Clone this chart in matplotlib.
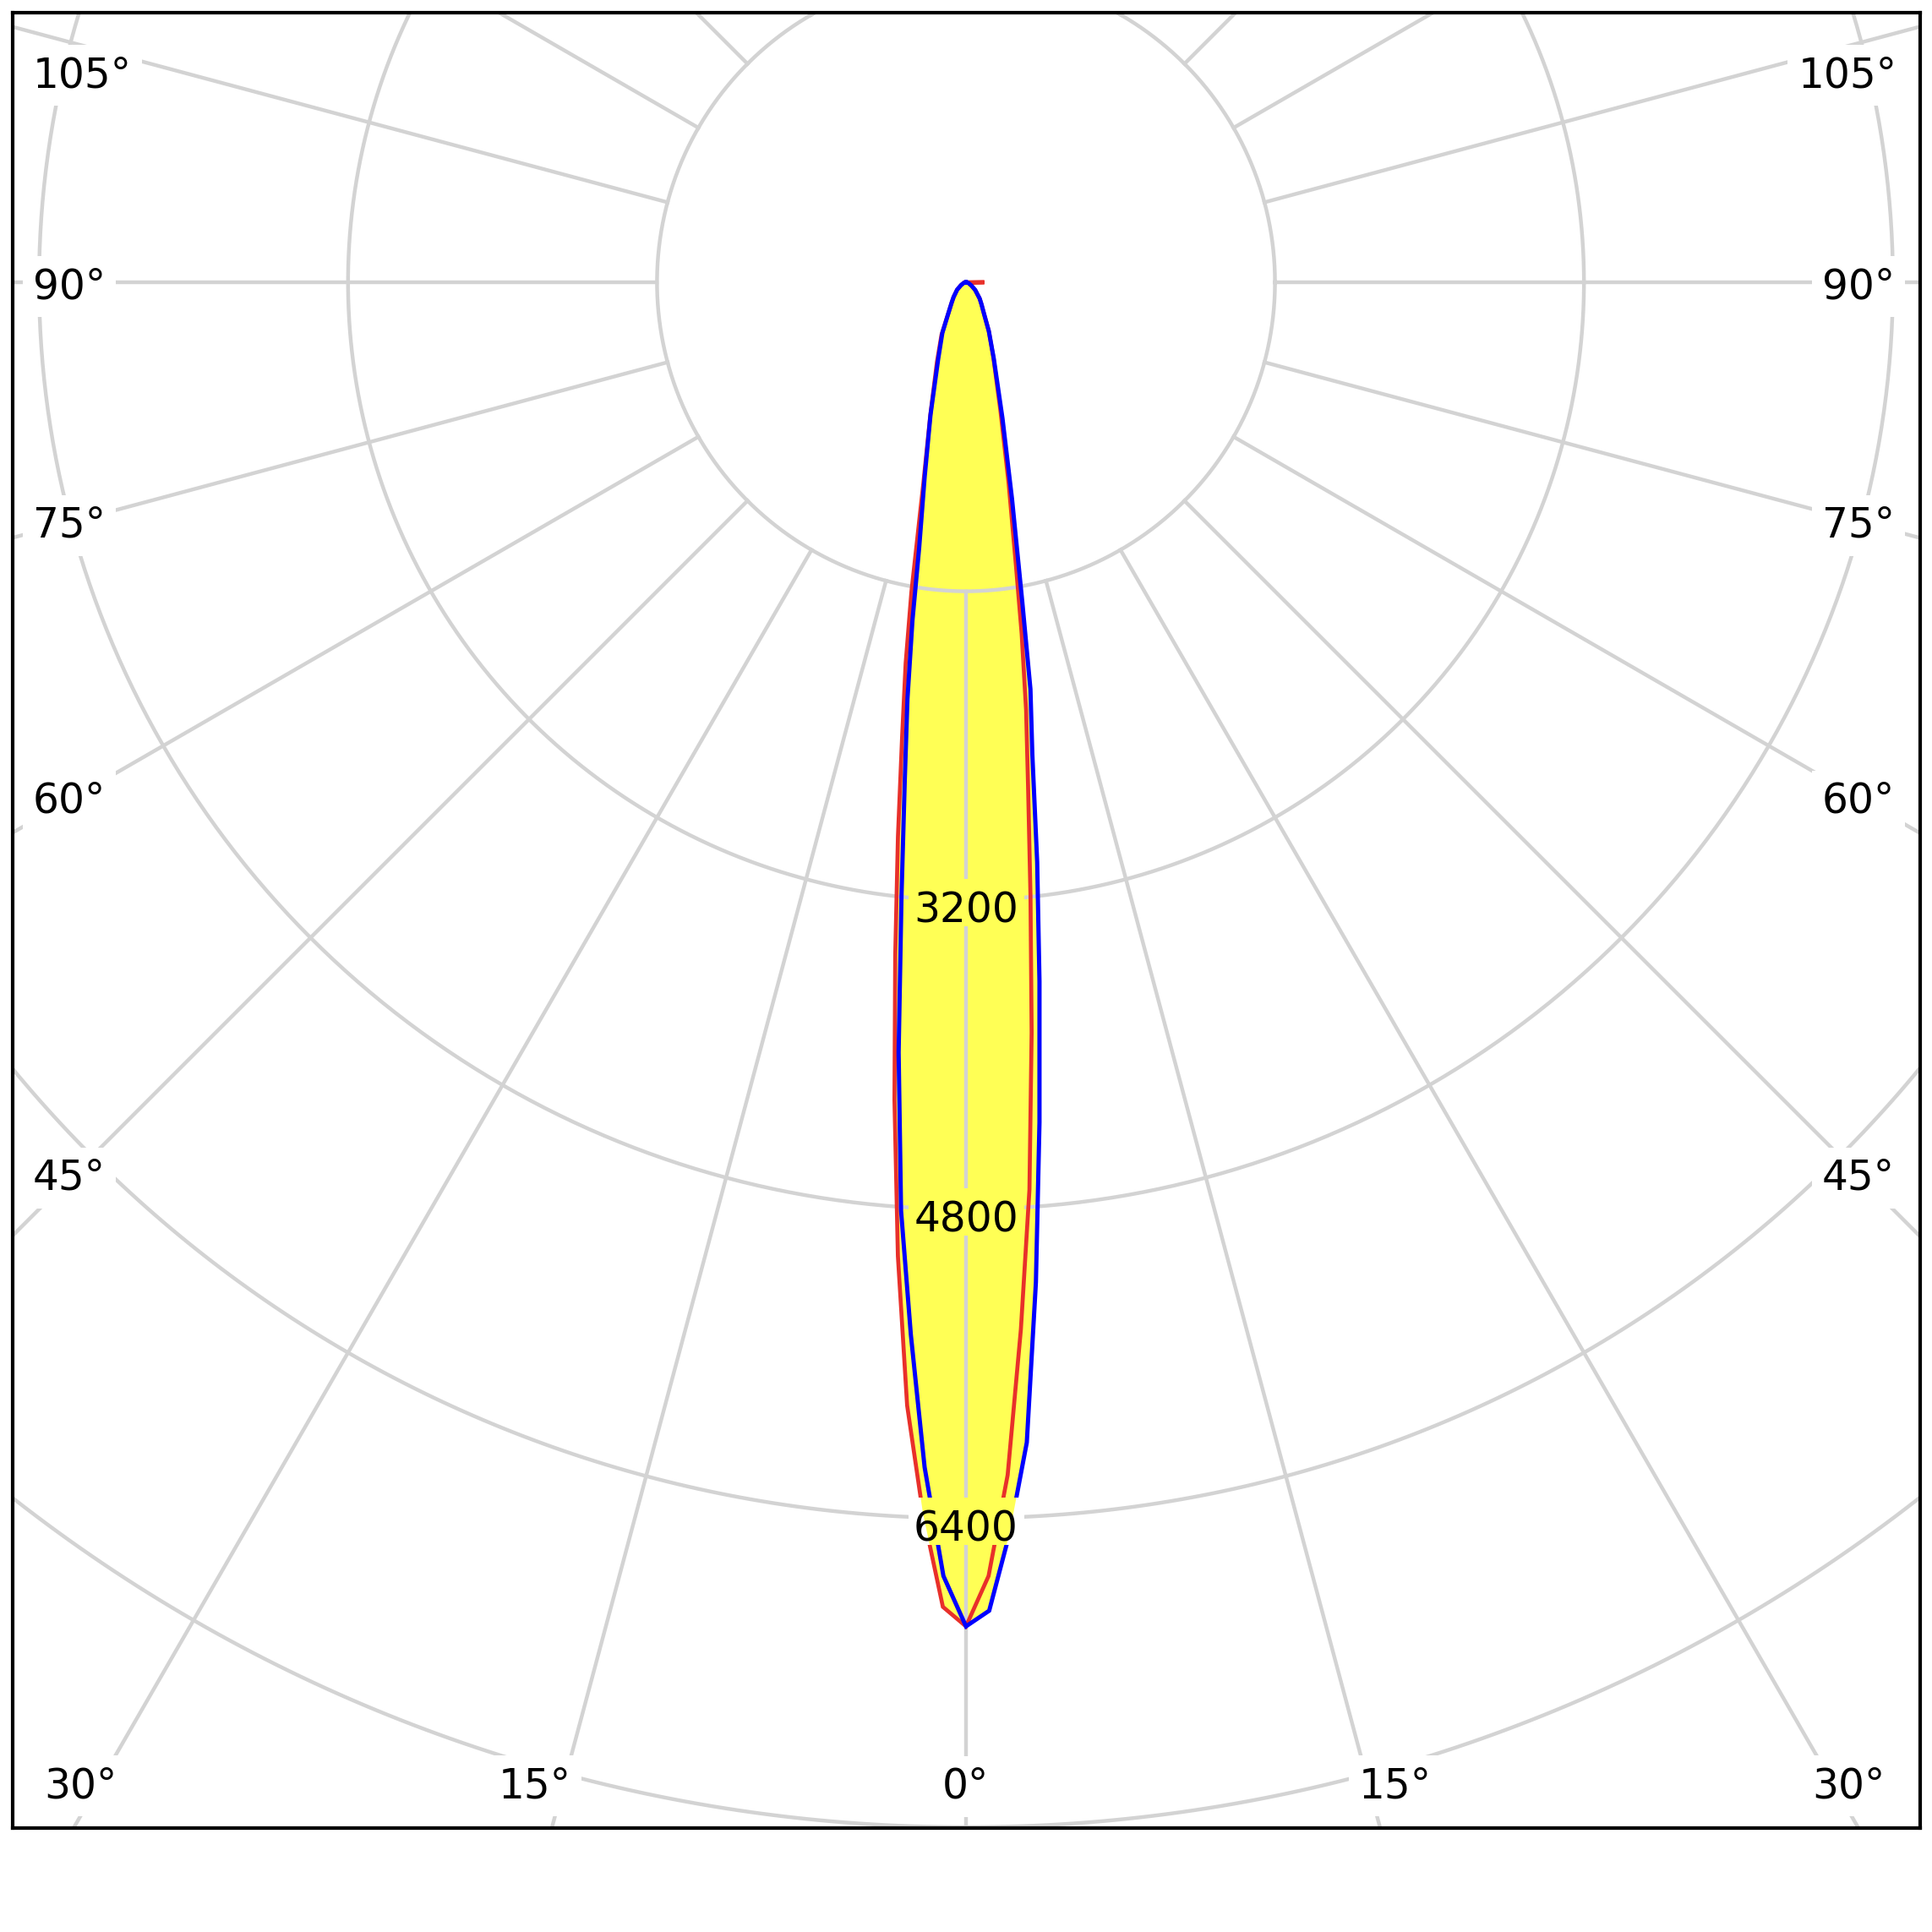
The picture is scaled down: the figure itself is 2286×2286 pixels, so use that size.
import numpy as np
import matplotlib
matplotlib.use('Agg')
import matplotlib.pyplot as plt
from matplotlib.patches import Polygon, Rectangle

# Lichtstärkeverteilung (cd), gamma in Grad, je C-Ebene
GAMMA = [0, 1, 2, 3, 4, 5, 6, 7, 8, 9, 10, 12, 15, 20, 25, 30, 35, 40, 50, 60, 70, 80, 90]
I_C0 = [6960, 6700, 6180, 5430, 4710, 3900, 3195, 2640, 2236, 1843, 1490, 1060, 690,
        415, 280, 185, 140, 110, 62, 32, 15, 10, 95]
I_C180 = [6960, 6860, 6380, 5824, 5055, 4250, 3506, 2891, 2377, 1997, 1627, 1060, 715,
          440, 300, 180, 130, 100, 60, 30, 15, 6, 0]
I_C90 = [6960, 6880, 6480, 6016, 5190, 4366, 3640, 3024, 2468, 2133, 1676, 1145, 730,
         421, 280, 185, 140, 110, 62, 30, 15, 6, 0]
I_C270 = [6960, 6700, 6140, 5457, 4820, 4003, 3195, 2603, 2178, 1772, 1397, 1029, 710,
          420, 290, 180, 130, 100, 60, 30, 15, 6, 0]

RING_LEVELS = [1600, 3200, 4800, 6400, 8000, 9600]
RING_LABELS = [3200, 4800, 6400]
SPOKE_STEP = 15

# Winkelbeschriftung: Text, Mitte x (px), Grundlinie y (px) im 2286er Bild
DEG_LABELS = [
    ('105°', 97, 103), ('90°', 82, 353), ('75°', 82, 636), ('60°', 82, 962),
    ('45°', 82, 1408), ('30°', 95, 2127), ('15°', 633, 2127), ('0°', 1142, 2128),
    ('15°', 1651, 2127), ('30°', 2187, 2127), ('45°', 2199, 1408), ('60°', 2199, 962),
    ('75°', 2199, 636), ('90°', 2199, 353), ('105°', 2186, 103),
]

YELLOW = '#ffff55'
RED = '#e8302a'
BLUE = '#0000ff'
GRID = '#d3d3d3'
FONT = 'DejaVu Sans'
FS = 35

# Pixel -> Daten (cd): Mittelpunkt und Maßstab
CX, CY, S = 1143, 334, 4.3764


def to_data(xp, yp):
    return (xp - CX) * S, (CY - yp) * S


def plane_xy(left, right):
    g = np.radians(GAMMA)
    il = np.array(left, dtype=float)
    ir = np.array(right, dtype=float)
    xl, yl = -il * np.sin(g), -il * np.cos(g)
    xr, yr = ir * np.sin(g), -ir * np.cos(g)
    x = np.concatenate([[0], xl[::-1], xr[1:], [0]])
    y = np.concatenate([[0], yl[::-1], yr[1:], [0]])
    return x, y


fig = plt.figure(figsize=(22.86, 22.86), dpi=100, facecolor='white')
ax = fig.add_axes([14.7 / 2286, 1 - 2163.3 / 2286, 2257 / 2286, 2148.3 / 2286])
ax.set_xlim(to_data(14.7, 0)[0], to_data(2271.7, 0)[0])
ax.set_ylim(to_data(0, 2163.3)[1], to_data(0, 15)[1])
ax.set_xticks([])
ax.set_yticks([])
for sp in ax.spines.values():
    sp.set_linewidth(3.0)
    sp.set_color('black')

planes = [plane_xy(I_C180, I_C0), plane_xy(I_C270, I_C90)]

# Füllung
for x, y in planes:
    ax.add_patch(Polygon(np.column_stack([x, y]), closed=True, fc=YELLOW, ec='none', zorder=1))

# Gitter: Ringe und Strahlen
t = np.linspace(0, 2 * np.pi, 721)
for lvl in RING_LEVELS:
    ax.plot(lvl * np.cos(t), lvl * np.sin(t), color=GRID, lw=3.2, zorder=2)
for a in range(0, 360, SPOKE_STEP):
    ar = np.radians(a)
    r = np.array([RING_LEVELS[0], 20000])
    ax.plot(r * np.sin(ar), -r * np.cos(ar), color=GRID, lw=3.2, zorder=2)

# Kurven
ax.plot(*planes[0], color=RED, lw=3.4, zorder=3, solid_joinstyle='miter')
ax.plot(*planes[1], color=BLUE, lw=3.6, zorder=3, solid_joinstyle='miter')

# Ringbeschriftung mit Maske
bw, bh = 137 * S, 56 * S
for lvl in RING_LABELS:
    rect = Rectangle((-bw / 2, -(lvl + 14) - bh / 2), bw, bh, fc='white', ec='none', zorder=4)
    ax.add_patch(rect)
    for x, y in planes:
        p = Polygon(np.column_stack([x, y]), closed=True, fc=YELLOW, ec='none', zorder=5)
        ax.add_patch(p)
        p.set_clip_path(rect)
    ax.text(0, -(lvl + 117), str(lvl), fontsize=FS, family=FONT, ha='center',
            va='baseline', color='black', zorder=6)

# Winkelbeschriftung
for txt, xp, yp in DEG_LABELS:
    xd, yd = to_data(xp, yp)
    ax.text(xd, yd, txt, fontsize=FS, family=FONT, ha='center', va='baseline',
            color='black', zorder=6,
            bbox=dict(boxstyle='square,pad=0.25', fc='white', ec='none'))

fig.savefig('out.png', dpi=100, facecolor='white')
